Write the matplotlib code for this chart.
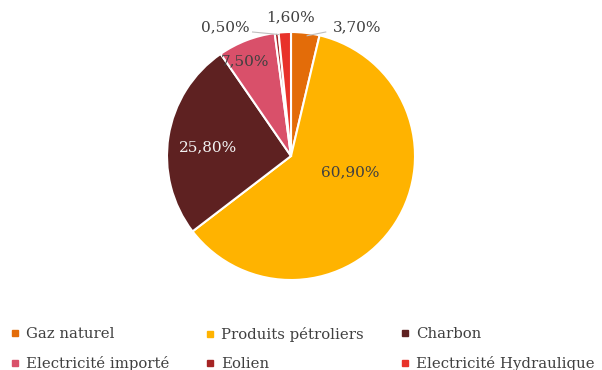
import matplotlib
matplotlib.use("Agg")
import matplotlib.pyplot as plt
from matplotlib.lines import Line2D

labels = ["Gaz naturel", "Produits pétroliers", "Charbon",
          "Electricité importé", "Eolien", "Electricité Hydraulique"]
values = [3.7, 60.9, 25.8, 7.5, 0.5, 1.6]
colors = ["#E36C09", "#FFB300", "#5E2121", "#D9506A", "#A52424", "#E8322A"]

# label positions in pie units (radius 1)
label_pos = [(0.53, 1.04), (0.48, -0.13), (-0.67, 0.07),
             (-0.37, 0.76), (-0.53, 1.04), (0.0, 1.12)]
label_col = ["#404040", "#404040", "#F2F2F2", "#404040", "#404040", "#404040"]

plt.rcParams['font.family'] = ['DejaVu Serif']

fig = plt.figure(figsize=(6.02, 3.70), dpi=100)
ax = fig.add_axes([167/602, 90/370, 248/602, 248/370])
wedges, _ = ax.pie(values, colors=colors, startangle=90, counterclock=False,
                   radius=1, wedgeprops=dict(edgecolor="white", linewidth=1.5))
ax.set_xlim(-1, 1)
ax.set_ylim(-1, 1)
ax.set_aspect("equal")
ax.axis("off")

for v, (x, y), c in zip(values, label_pos, label_col):
    ax.text(x, y, f"{v:.2f}%".replace(".", ","), ha="center", va="center",
            fontsize=11, color=c, clip_on=False)

# leader lines for small slices
ax.plot([0.13, 0.28], [0.97, 1.0], color="#BFBFBF", lw=0.8, clip_on=False)
ax.plot([-0.31, -0.1], [1.0, 0.98], color="#BFBFBF", lw=0.8, clip_on=False)

# legend: three columns, each its own legend so columns line up with the reference
col_x = [3/602, 198/602, 393/602]
for c, x0 in enumerate(col_x):
    idx = [c, c + 3]
    handles = [Line2D([], [], marker="s", ls="", color=colors[i], markersize=4.5) for i in idx]
    fig.legend(handles, [labels[i] for i in idx], loc="lower left",
               bbox_to_anchor=(x0, -0.02), frameon=False, fontsize=10.7,
               handletextpad=0.35, handlelength=0.8, borderaxespad=0,
               labelspacing=1.04, labelcolor="#404040")

fig.savefig("out.png", dpi=100)
